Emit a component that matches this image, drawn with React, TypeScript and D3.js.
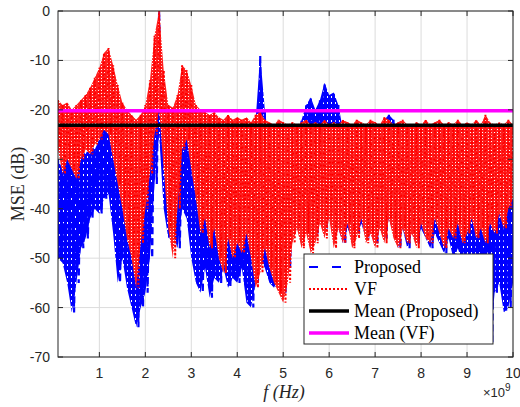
import React from "react";
import * as d3 from "d3";

const freqs: number[] = Array.from({ length: 100 }, (_, i) => +(0.1 + 0.1 * i).toFixed(1));

const vfHi: number[] = [
  -18, -19, -18.5, -20, -19, -18, -17, -15.5, -13.5, -11.5,
  -8.5, -7.5, -11, -15, -18.5, -20, -21, -22, -21, -19,
  -14, -5, 0, -12, -19, -19.5, -17, -11, -12, -15,
  -19, -20, -20.5, -21, -20.5, -21.5, -22, -21, -22, -21.5,
  -22, -21.5, -22.5, -21, -20.5, -22, -22.5, -23, -22, -22.5,
  -23, -22.5, -23, -22.5, -22, -23, -22.5, -23, -22, -23,
  -22.5, -23, -22, -22.5, -23, -22, -22.5, -23, -22, -22.5,
  -23, -21.5, -22, -23, -22.5, -22, -23, -23.5, -22.5, -23,
  -22, -23, -22.5, -22, -23, -22.5, -23, -22, -23, -22.5,
  -23, -22, -23, -21, -22.5, -23, -22.5, -23, -22, -23,
];
const vfLo: number[] = [
  -28, -33, -30, -32, -34, -30, -28, -29, -27, -26,
  -24, -25, -30, -35, -40, -46, -50, -56, -47, -40,
  -33, -25, -20, -32, -44, -50, -40, -28, -26, -32,
  -38, -45, -42, -48, -44, -50, -53, -46, -50, -47,
  -49, -45, -50, -56, -53, -48, -52, -55, -57, -59,
  -55, -47, -44, -48, -45, -49, -47, -43, -46, -42,
  -48, -44, -47, -43, -48, -46, -42, -47, -45, -48,
  -44, -47, -42, -46, -48, -44, -47, -45, -48, -43,
  -46, -47, -42, -45, -48, -44, -46, -43, -47, -45,
  -42, -46, -44, -47, -43, -45, -41, -44, -40, -38,
];
const prHi: number[] = [
  -30, -32, -29, -28, -30, -28, -29, -27, -28, -26,
  -23, -22, -26, -29, -30, -34, -36, -35, -30, -27,
  -25, -10, 0, -20, -33, -32, -28, -23, -24, -28,
  -30, -29, -30, -31, -30, -32, -31, -30, -31, -30,
  -29, -28, -27, -22, -9, -20, -27, -29, -28, -30,
  -29, -27, -25, -22, -19, -17.5, -20, -18, -14.5, -17,
  -16.5, -19, -24, -26, -27, -28, -27, -26, -27, -28,
  -26, -22, -21, -22, -26, -28, -27, -26, -28, -27,
  -29, -26, -27, -28, -27, -26, -28, -27, -26, -28,
  -27, -26, -28, -27, -29, -27, -28, -30, -28, -30,
];
const prLo: number[] = [
  -50, -51, -55, -61, -55, -48, -46, -42, -40, -41,
  -38, -37, -45, -55, -50, -56, -60, -64, -60, -57,
  -50, -35, -25, -40, -46, -45, -48, -40, -42, -50,
  -55, -57, -52, -58, -54, -55, -52, -56, -54, -55,
  -52, -59, -60, -55, -50, -52, -55, -56, -54, -57,
  -52, -45, -44, -46, -43, -47, -45, -42, -44, -42,
  -45, -44, -47, -44, -46, -45, -43, -46, -45, -47,
  -44, -46, -42, -45, -48, -44, -48, -45, -47, -44,
  -46, -48, -45, -47, -49, -46, -50, -48, -51, -49,
  -52, -55, -53, -58, -67, -57, -55, -61, -60, -55,
];

const meanProposed = -23.1;
const meanVF = -20.2;

const xTicks: number[] = [1, 2, 3, 4, 5, 6, 7, 8, 9, 10];
const yTicks: number[] = [0, -10, -20, -30, -40, -50, -60, -70];
const legendLabels: string[] = ["Proposed", "VF", "Mean (Proposed)", "Mean (VF)"];

const W = 520, H = 407;
const L = 58, R = 513, T = 11, B = 357;

export default function App() {
  const x = d3.scaleLinear().domain([0.1, 10]).range([L, R]);
  const y = d3.scaleLinear().domain([-70, 0]).range([B, T]);
  const axisColor = "#262626";
  const sans = "'Liberation Sans', Arial, Helvetica, sans-serif";
  const serif = "'Liberation Serif', 'Times New Roman', serif";

  const zig = (hi: number[], lo: number[]) => {
    const pts: [number, number][] = [];
    freqs.forEach((f, i) => {
      pts.push([f, hi[i]]);
      pts.push([f + 0.05, lo[i]]);
    });
    return d3.line<[number, number]>().x(d => x(d[0])).y(d => y(d[1]))(pts) || "";
  };
  const band = (hi: number[], lo: number[]) =>
    d3.area<number>()
      .x((_, i) => x(freqs[i]))
      .y0((_, i) => y(lo[i]))
      .y1((_, i) => y(hi[i]))(freqs) || "";

  const legendColors = ["#0000ff", "#ff0000", "#000000", "#ff00ff"];
  const legendDash = ["9 14", "2 2", "none", "none"];
  const legendWidth = [2, 2, 3.5, 3.5];

  return (
    <svg width={W} height={H} style={{ position: "absolute", left: 0, top: 0, background: "#fff" }}>
      <defs>
        <clipPath id="plotclip">
          <rect x={L} y={T} width={R - L} height={B - T} />
        </clipPath>
        <pattern id="redDots" width="3" height="3" patternUnits="userSpaceOnUse">
          <rect width="3" height="3" fill="#ff2020" />
          <rect x="2" y="0" width="1" height="1" fill="#ffffff" />
        </pattern>
        <pattern id="blueDots" width="4" height="6" patternUnits="userSpaceOnUse">
          <rect width="4" height="6" fill="#0000ff" />
          <rect x="3" y="0" width="1" height="2" fill="#ffffff" />
        </pattern>
      </defs>
      <rect x={L} y={T} width={R - L} height={B - T} fill="#fff" />
      {/* grid */}
      {xTicks.map(t => (
        <line key={"gx" + t} x1={x(t)} x2={x(t)} y1={T} y2={B} stroke="#dcdcdc" strokeWidth={1} />
      ))}
      {yTicks.map(t => (
        <line key={"gy" + t} x1={L} x2={R} y1={y(t)} y2={y(t)} stroke="#dcdcdc" strokeWidth={1} />
      ))}
      <g clipPath="url(#plotclip)">
        <path d={band(prHi, prLo)} fill="url(#blueDots)" stroke="none" />
        <path d={zig(prHi, prLo)} fill="none" stroke="#0000ff" strokeWidth={2.2} strokeDasharray="7 4" />
        <path d={band(vfHi, vfLo)} fill="url(#redDots)" stroke="none" />
        <path d={zig(vfHi, vfLo)} fill="none" stroke="#ff0000" strokeWidth={2} strokeDasharray="2 2" />
        <line x1={L} x2={R} y1={y(meanProposed)} y2={y(meanProposed)} stroke="#000" strokeWidth={3.5} />
        <line x1={L} x2={R} y1={y(meanVF)} y2={y(meanVF)} stroke="#ff00ff" strokeWidth={3.5} />
      </g>
      {/* axes box */}
      <rect x={L} y={T} width={R - L} height={B - T} fill="none" stroke={axisColor} strokeWidth={1} />
      {xTicks.map(t => (
        <g key={"tx" + t}>
          <line x1={x(t)} x2={x(t)} y1={B} y2={B - 5} stroke={axisColor} />
          <line x1={x(t)} x2={x(t)} y1={T} y2={T + 5} stroke={axisColor} />
          <text x={x(t)} y={378} textAnchor="middle" fontFamily={sans} fontSize={14} fill={axisColor}>{t}</text>
        </g>
      ))}
      {yTicks.map(t => (
        <g key={"ty" + t}>
          <line x1={L} x2={L + 5} y1={y(t)} y2={y(t)} stroke={axisColor} />
          <line x1={R} x2={R - 5} y1={y(t)} y2={y(t)} stroke={axisColor} />
          <text x={50} y={y(t) + 5} textAnchor="end" fontFamily={sans} fontSize={14} fill={axisColor}>{t}</text>
        </g>
      ))}
      <text x={483} y={397} fontFamily={sans} fontSize={13} fill={axisColor}>
        ×10<tspan dy={-6} fontSize={10}>9</tspan>
      </text>
      <text x={284} y={398} textAnchor="middle" fontFamily={serif} fontStyle="italic" fontSize={18} fill={axisColor}>
        <tspan fontStyle="italic">f</tspan> (Hz)
      </text>
      <text transform={`translate(24,${(T + B) / 2}) rotate(-90)`} textAnchor="middle" fontFamily={serif} fontSize={18} fill={axisColor}>
        MSE (dB)
      </text>
      {/* legend */}
      <rect x={304} y={254} width={189} height={90} fill="#fff" stroke={axisColor} strokeWidth={1} />
      {legendLabels.map((lab, i) => {
        const ly = 267 + i * 22;
        return (
          <g key={lab}>
            <line x1={309} x2={349} y1={ly} y2={ly} stroke={legendColors[i]} strokeWidth={legendWidth[i]}
              strokeDasharray={legendDash[i]} />
            <text x={354} y={ly + 6} fontFamily={serif} fontSize={18} fill="#000">{lab}</text>
          </g>
        );
      })}
    </svg>
  );
}
